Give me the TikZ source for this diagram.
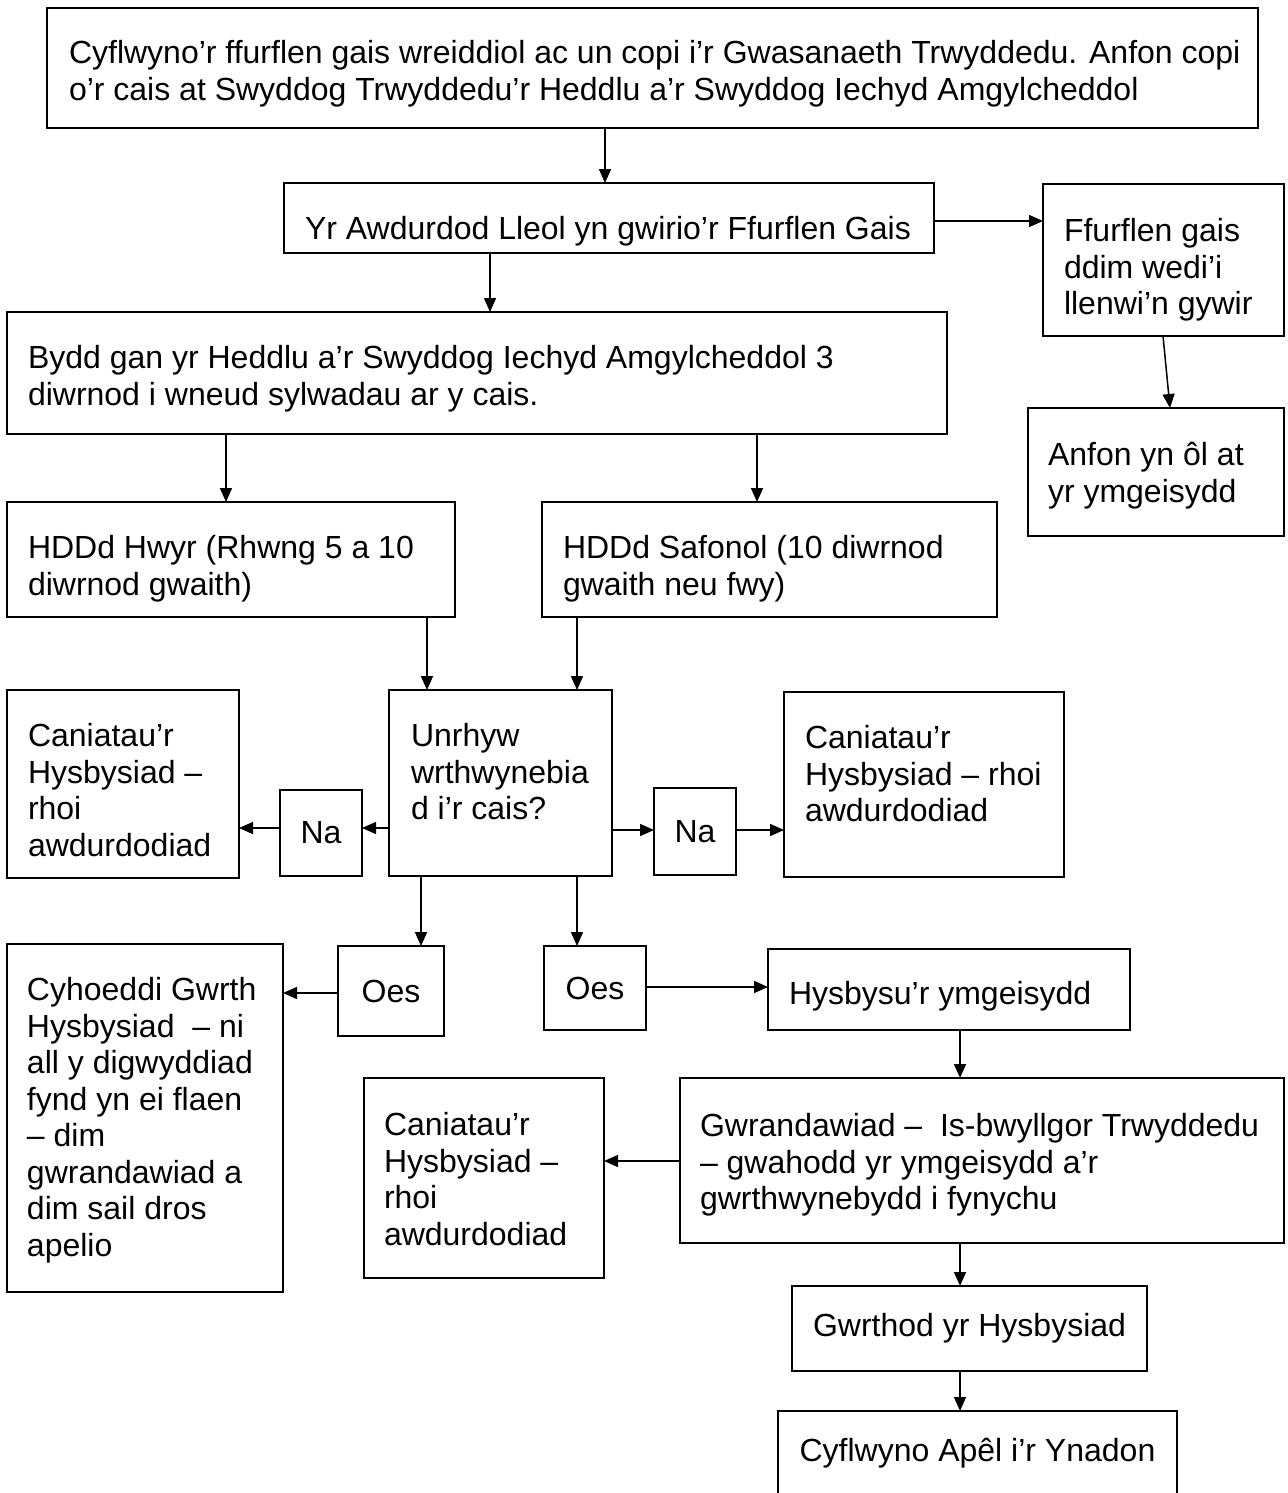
\documentclass[tikz,border=0pt]{standalone}
\usepackage{fontspec}
\setmainfont{Liberation Sans}
\usetikzlibrary{arrows.meta}
\begin{document}
\begin{tikzpicture}[x=1pt,y=-1pt,
  box/.style={draw, line width=2pt, inner sep=0pt, outer sep=0pt, anchor=north west,
    font=\fontsize{32}{36.5}\selectfont},
  txt/.style={inner sep=0pt, outer sep=0pt, anchor=north west, align=left,
    font=\fontsize{32}{36.5}\selectfont},
  arr/.style={line width=1.5pt, -{Triangle[length=14pt,width=12pt]}}]
\useasboundingbox (0,0) rectangle (1287,1493);
% boxes
\node[box, minimum width=1211, minimum height=120] (b1) at (47,8) {};
\node[box, minimum width=650, minimum height=70] (b2) at (284,183) {};
\node[box, minimum width=241, minimum height=152] (b3) at (1043,184) {};
\node[box, minimum width=940, minimum height=122] (b4) at (7,312) {};
\node[box, minimum width=256, minimum height=128] (b5) at (1028,408) {};
\node[box, minimum width=448, minimum height=115] (b6) at (7,502) {};
\node[box, minimum width=455, minimum height=115] (b7) at (542,502) {};
\node[box, minimum width=223, minimum height=186] (b8) at (389,690) {};
\node[box, minimum width=232, minimum height=188] (b9) at (7,690) {};
\node[box, minimum width=82, minimum height=86] (b10) at (280,790) {Na};
\node[box, minimum width=82, minimum height=87] (b11) at (654,788) {Na};
\node[box, minimum width=280, minimum height=185] (b12) at (784,692) {};
\node[box, minimum width=106, minimum height=90] (b13) at (338,946) {Oes};
\node[box, minimum width=102, minimum height=84] (b14) at (544,946) {Oes};
\node[box, minimum width=276, minimum height=348] (b15) at (7,944) {};
\node[box, minimum width=362, minimum height=81] (b16) at (768,949) {};
\node[box, minimum width=240, minimum height=200] (b17) at (364,1078) {};
\node[box, minimum width=604, minimum height=165] (b18) at (680,1078) {};
\node[box, minimum width=355, minimum height=85] (b19) at (792,1286) {Gwrthod yr Hysbysiad};
\node[box, minimum width=399, minimum height=84] (b20) at (778,1411) {Cyflwyno Apêl i’r Ynadon};
% texts
\node[txt] (t1) at (69,38) {\strut Cyflwyno’r ffurflen gais wreiddiol ac un copi i’r Gwasanaeth Trwyddedu. Anfon copi\\o’r cais at Swyddog Trwyddedu’r Heddlu a’r Swyddog Iechyd Amgylcheddol};
\node[txt] (t2) at (305,214) {\strut Yr Awdurdod Lleol yn gwirio’r Ffurflen Gais};
\node[txt] (t3) at (1064,216) {\strut Ffurflen gais\\ddim wedi’i\\llenwi’n gywir};
\node[txt] (t4) at (28,343) {\strut Bydd gan yr Heddlu a’r Swyddog Iechyd Amgylcheddol 3\\diwrnod i wneud sylwadau ar y cais.};
\node[txt] (t5) at (1048,440) {\strut Anfon yn ôl at\\yr ymgeisydd};
\node[txt] (t6) at (28,533) {\strut HDDd Hwyr (Rhwng 5 a 10\\diwrnod gwaith)};
\node[txt] (t7) at (563,533) {\strut HDDd Safonol (10 diwrnod\\gwaith neu fwy)};
\node[txt] (t8) at (411,721) {\strut Unrhyw\\wrthwynebia\\d i’r cais?};
\node[txt] (t9) at (28,721) {\strut Caniatau’r\\Hysbysiad –\\rhoi\\awdurdodiad};
\node[txt] (t12) at (805,723) {\strut Caniatau’r\\Hysbysiad – rhoi\\awdurdodiad};
\node[txt] (t15) at (27,975) {\strut Cyhoeddi Gwrth\\Hysbysiad\ \ – ni\\all y digwyddiad\\fynd yn ei flaen\\– dim\\gwrandawiad a\\dim sail dros\\apelio};
\node[txt] (t16) at (789,979) {\strut Hysbysu’r ymgeisydd};
\node[txt] (t17) at (384,1110) {\strut Caniatau’r\\Hysbysiad –\\rhoi\\awdurdodiad};
\node[txt] (t18) at (700,1111) {\strut Gwrandawiad –\ \ Is-bwyllgor Trwyddedu\\– gwahodd yr ymgeisydd a’r\\gwrthwynebydd i fynychu};
% connectors
\draw[arr] (605,0 |- b1.south) -- (605,0 |- b2.north);
\draw[arr] (b2.east |- 0,221) -- (b3.west |- 0,221);
\draw[arr] (490,0 |- b2.south) -- (490,0 |- b4.north);
\draw[arr] (1163,0 |- b3.south) -- (1170,0 |- b5.north);
\draw[arr] (226,0 |- b4.south) -- (226,0 |- b6.north);
\draw[arr] (757,0 |- b4.south) -- (757,0 |- b7.north);
\draw[arr] (427,0 |- b6.south) -- (427,0 |- b8.north);
\draw[arr] (577,0 |- b7.south) -- (577,0 |- b8.north);
\draw[arr] (b8.west |- 0,828) -- (b10.east |- 0,828);
\draw[arr] (b10.west |- 0,828) -- (b9.east |- 0,828);
\draw[arr] (b8.east |- 0,830) -- (b11.west |- 0,830);
\draw[arr] (b11.east |- 0,830) -- (b12.west |- 0,830);
\draw[arr] (421,0 |- b8.south) -- (421,0 |- b13.north);
\draw[arr] (577,0 |- b8.south) -- (577,0 |- b14.north);
\draw[arr] (b13.west |- 0,993) -- (b15.east |- 0,993);
\draw[arr] (b14.east |- 0,987) -- (b16.west |- 0,987);
\draw[arr] (960,0 |- b16.south) -- (960,0 |- b18.north);
\draw[arr] (b18.west |- 0,1161) -- (b17.east |- 0,1161);
\draw[arr] (960,0 |- b18.south) -- (960,0 |- b19.north);
\draw[arr] (960,0 |- b19.south) -- (960,0 |- b20.north);
\end{tikzpicture}
\end{document}
